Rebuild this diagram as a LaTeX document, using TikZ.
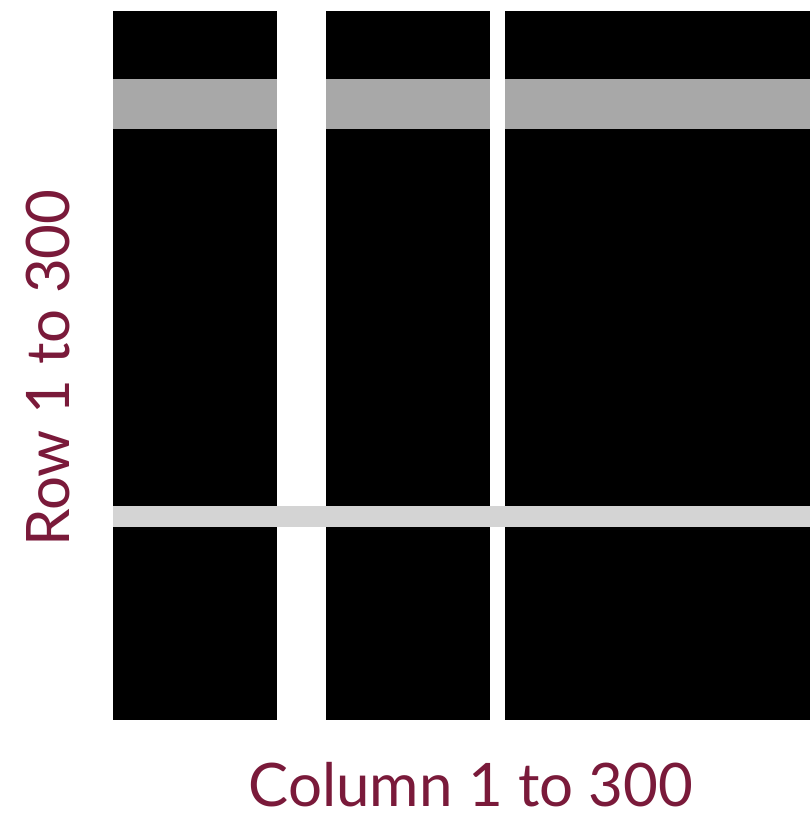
\documentclass[tikz,border=0pt]{standalone}
\usepackage{fontspec}
\setmainfont{Lato}
\definecolor{maroon}{HTML}{7A1A3A}
\definecolor{darkband}{HTML}{A8A8A8}
\definecolor{lightband}{HTML}{D4D4D4}
\begin{document}
\begin{tikzpicture}[x=1pt,y=-1pt,
  blk/.style={fill=black},
  lbl/.style={text=maroon,font=\fontsize{60}{66}\selectfont,inner sep=0pt,text depth=0pt}]
\useasboundingbox (0,0) rectangle (810,819);
\fill[white] (0,0) rectangle (810,819);
% black blocks
\fill[blk] (113,11) rectangle (277,720);
\fill[blk] (326,11) rectangle (490,720);
\fill[blk] (505,11) rectangle (810,720);
% dark band (only over blocks)
\fill[darkband] (113,79) rectangle (277,129);
\fill[darkband] (326,79) rectangle (490,129);
\fill[darkband] (505,79) rectangle (810,129);
% light band across
\fill[lightband] (113,506) rectangle (810,527);
\node[lbl,anchor=base] (col) at (471,806) {Column 1 to 300};
\node[lbl,anchor=base,rotate=90] (row) at (69,368) {Row 1 to 300};
\end{tikzpicture}
\end{document}
